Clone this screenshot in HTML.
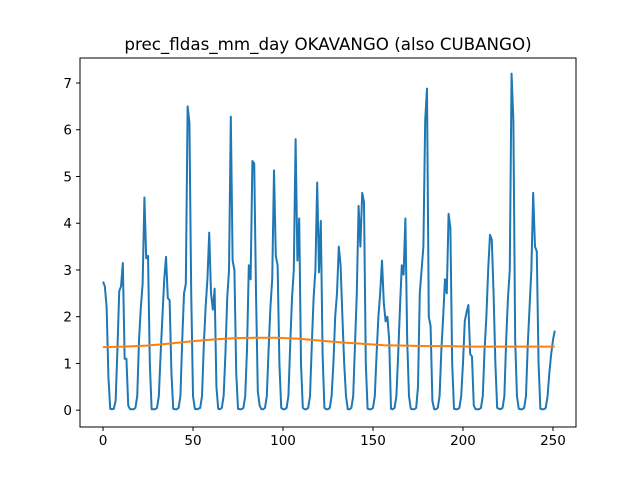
<!DOCTYPE html>
<html><head><meta charset="utf-8"><style>
body{margin:0;background:#fff;}
svg text{font-family:"DejaVu Sans","Liberation Sans",sans-serif;fill:#000;}
</style></head><body>
<svg id="chart" width="640" height="480" xmlns="http://www.w3.org/2000/svg">
<rect width="640" height="480" fill="#fff"/>
<text x="328" y="50" font-size="16.7" text-anchor="middle">prec_fldas_mm_day OKAVANGO (also CUBANGO)</text>
<g id="plot"></g>
</svg>
<script>
const seriesValues = [
2.75,2.65,2.2,0.7,0.03,0.02,0.03,0.2,1.3,2.55,2.65,3.15,
1.1,1.1,0.1,0.02,0.02,0.02,0.05,0.3,1.5,2.2,2.7,4.55,
3.25,3.3,1.0,0.02,0.02,0.02,0.05,0.3,1.2,2.0,2.8,3.28,
2.4,2.35,0.8,0.03,0.02,0.02,0.05,0.3,1.5,2.5,2.7,6.5,
6.15,2.5,0.3,0.03,0.02,0.03,0.05,0.3,1.4,2.2,2.8,3.8,
2.5,2.15,2.6,0.5,0.03,0.02,0.05,0.3,1.2,2.4,3.0,6.28,
3.2,3.0,0.8,0.03,0.02,0.02,0.05,0.3,1.3,3.1,2.8,5.33,
5.28,2.5,0.4,0.1,0.02,0.02,0.05,0.3,1.3,2.2,2.8,5.13,
3.3,3.1,1.0,0.05,0.02,0.02,0.05,0.3,1.4,2.4,3.0,5.8,
3.2,4.1,1.0,0.05,0.02,0.02,0.05,0.3,1.4,2.4,3.0,4.87,
2.95,4.05,1.2,0.05,0.02,0.02,0.05,0.3,1.0,2.0,2.5,3.5,
3.1,2.0,1.0,0.3,0.02,0.02,0.05,0.3,1.4,2.5,4.37,3.5,
4.65,4.45,1.0,0.03,0.02,0.02,0.05,0.3,1.2,2.0,2.5,3.2,
2.3,1.9,2.0,1.5,0.03,0.02,0.05,0.3,1.2,2.2,3.1,2.9,
4.1,1.5,0.3,0.03,0.02,0.02,0.05,0.5,2.5,3.0,3.5,6.2,
6.88,2.0,1.8,0.2,0.02,0.02,0.05,0.3,1.3,2.0,2.8,2.5,
4.2,3.9,1.0,0.03,0.02,0.02,0.05,0.3,1.0,1.9,2.1,2.25,
1.2,1.15,0.1,0.02,0.02,0.02,0.05,0.3,1.3,2.0,3.0,3.75,
3.65,2.5,1.0,0.05,0.03,0.02,0.05,0.3,1.5,2.4,3.0,7.2,
6.2,1.5,0.3,0.03,0.02,0.02,0.05,0.3,1.4,2.2,3.0,4.65,
3.5,3.4,1.0,0.03,0.02,0.02,0.05,0.3,0.8,1.2,1.5,1.7];
const trendX = [0,12,24,36,48,60,72,84,96,108,120,132,144,156,168,180,192,204,216,228,240,251];
const trendValues = [1.35,1.36,1.38,1.42,1.47,1.51,1.54,1.55,1.55,1.53,1.49,1.45,1.42,1.39,1.38,1.37,1.37,1.36,1.36,1.36,1.36,1.36];
const xTicks = [0,50,100,150,200,250];
const yTicks = [0,1,2,3,4,5,6,7];

const L=80,R=576,T=58,B=427;
const xMin=-12.8,xMax=262.8,yMin=-0.36,yMax=7.535;
const sx=v=>L+(v-xMin)/(xMax-xMin)*(R-L);
const sy=v=>B-(v-yMin)/(yMax-yMin)*(B-T);
const NS='http://www.w3.org/2000/svg';
const g=document.getElementById('plot');
function mk(tag,attrs){const e=document.createElementNS(NS,tag);for(const k in attrs)e.setAttribute(k,attrs[k]);g.appendChild(e);return e;}

const main=mk('polyline',{points:seriesValues.map((v,i)=>sx(i)+','+sy(v)).join(' '),fill:'none',stroke:'#1f77b4','stroke-width':2,'stroke-linejoin':'round'});


const tr=mk('polyline',{points:trendValues.map((v,i)=>sx(trendX[i])+','+sy(v)).join(' '),fill:'none',stroke:'#ff7f0e','stroke-width':2});



const frame=mk('rect',{x:L,y:T,width:R-L,height:B-T,fill:'none',stroke:'#000','stroke-width':1});



xTicks.forEach(t=>{
  const x=sx(t);
  const tk=mk('line',{x1:x,x2:x,y1:B,y2:B+4,stroke:'#000'});
  
  
  const lb=mk('text',{x:x,y:B+18,'font-size':13.5,'text-anchor':'middle'});
  lb.textContent=t;
  
  
});
yTicks.forEach(t=>{
  const y=sy(t);
  const tk=mk('line',{x1:L-4,x2:L,y1:y,y2:y,stroke:'#000'});
  
  
  const lb=mk('text',{x:L-8,y:y+5,'font-size':13.5,'text-anchor':'end'});
  lb.textContent=t;
  
  
});
</script>
</body></html>
